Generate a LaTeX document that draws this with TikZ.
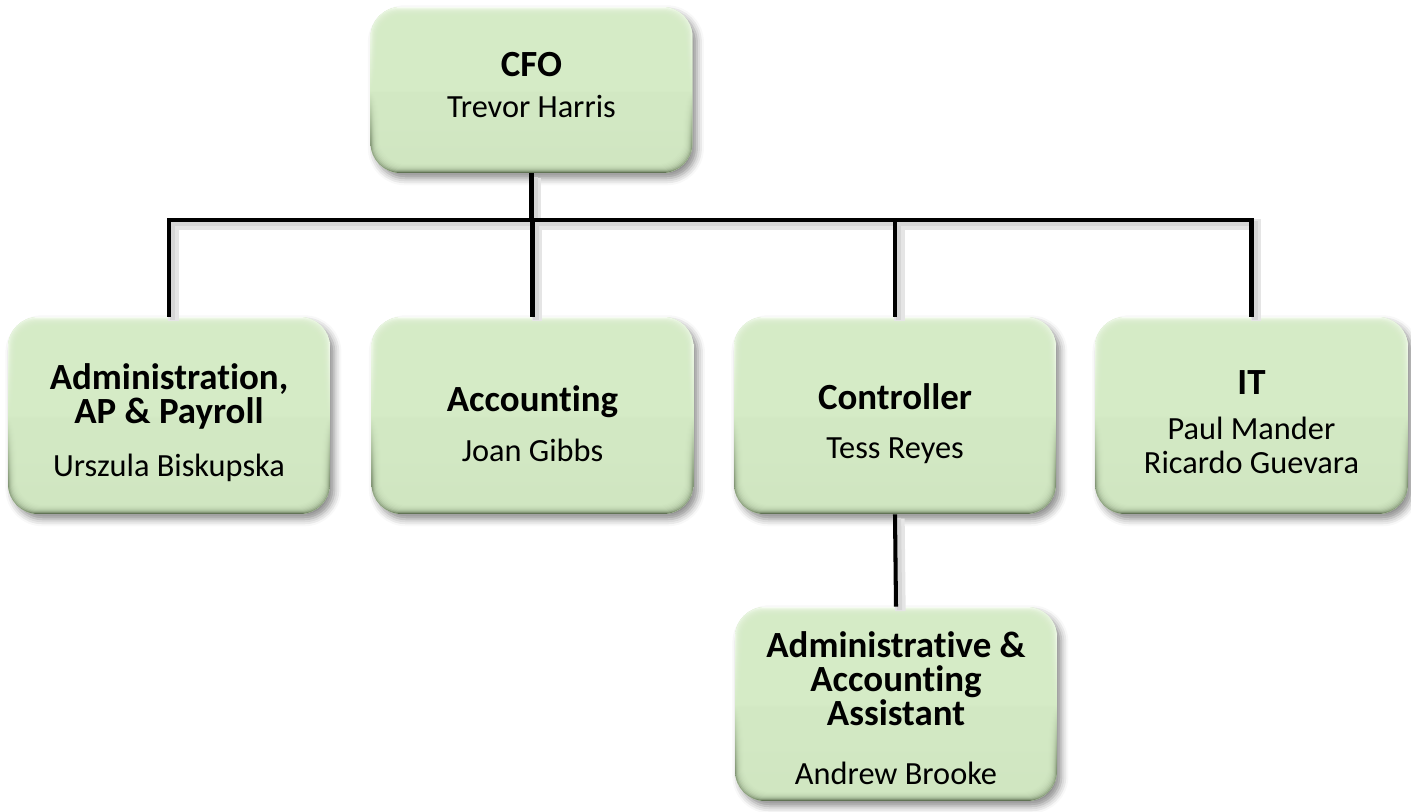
\documentclass[tikz,border=0pt]{standalone}
\usepackage{fontspec}
\setmainfont{Carlito}[Ligatures={NoCommon,NoDiscretionary}]
\usetikzlibrary{calc,shadows.blur}
\definecolor{boxfill}{RGB}{213,235,198}
\definecolor{bevtop}{RGB}{246,252,242}
\definecolor{bevbot}{RGB}{96,114,84}
\newcommand{\ttl}[1]{{\fontsize{21}{19.3}\selectfont\bfseries #1}}
% top strut, pushes the text of a box a little down
\newcommand{\lift}[1]{\rule{0pt}{#1}}
\tikzset{
	orgbox/.style={rectangle, rounded corners=0.6cm, fill=boxfill, draw=none,
		minimum width=6.44cm, minimum height=3.94cm, align=center, inner sep=0pt,
		font=\fontsize{18.4}{19.3}\selectfont,
		blur shadow={shadow xshift=2.5pt, shadow yshift=-3pt, shadow blur radius=4pt, shadow opacity=45},
		path picture={
			\fill[top color=bevtop, bottom color=bevbot, middle color=boxfill]
				(path picture bounding box.south west) rectangle (path picture bounding box.north east);
			\foreach \i in {1,...,9}
				\fill[boxfill, fill opacity=0.3, rounded corners=0.5cm]
					([shift={(\i*0.02cm,\i*0.02cm)}]path picture bounding box.south west) rectangle
					([shift={(-\i*0.02cm,-\i*0.02cm)}]path picture bounding box.north east);
		}},
	raise/.style={execute at end node={\rule[-#1]{0pt}{#1}}},
	link/.style={line width=2.3pt, black,
		preaction={draw=black!10, line width=6pt, transform canvas={shift={(2.5pt,-2.5pt)}}},
		preaction={draw=black!16, line width=3pt, transform canvas={shift={(2pt,-2pt)}}}}
}
\begin{document}
\begin{tikzpicture}[x=0.02cm, y=-0.02cm]
	%%%%% START %%%%%
	\useasboundingbox (0,0) rectangle (1411,812);

	\node[orgbox, raise=6pt, minimum height=3.32cm] (CFO) at (531.5,90)
		{\ttl{CFO}\\[4pt] Trevor Harris};

	\node[orgbox] (Admin) at (169,415.5)
		{\lift{23pt}\ttl{Administration,}\\ \ttl{AP \& Payroll}\\[11pt] Urszula Biskupska};
	\node[orgbox] (Acct) at (532.5,415.5)
		{\lift{24pt}\ttl{Accounting}\\[9pt] Joan Gibbs};
	\node[orgbox] (Ctrl) at (895,415.5)
		{\lift{24pt}\ttl{Controller}\\[9pt] Tess Reyes};
	\node[orgbox, minimum width=6.26cm] (IT) at (1251.5,415.5)
		{\lift{21pt}\ttl{IT}\\[6.5pt] Paul Mander\\ Ricardo Guevara};

	\node[orgbox, minimum height=3.88cm] (Asst) at (896,704)
		{\lift{19.5pt}\ttl{Administrative \&}\\ \ttl{Accounting}\\ \ttl{Assistant}\\[14pt] Andrew Brooke};

	% reporting lines
	\coordinate (bus) at (CFO.south |- 0,220);
	\draw[link] (CFO.south) -- (bus)
		\foreach \n in {Admin,Acct,Ctrl,IT} {(bus) -| (\n.north)};
	\draw[link] (Ctrl.south) -- (Asst.north);
	%%%%% END %%%%%
\end{tikzpicture}
\end{document}
